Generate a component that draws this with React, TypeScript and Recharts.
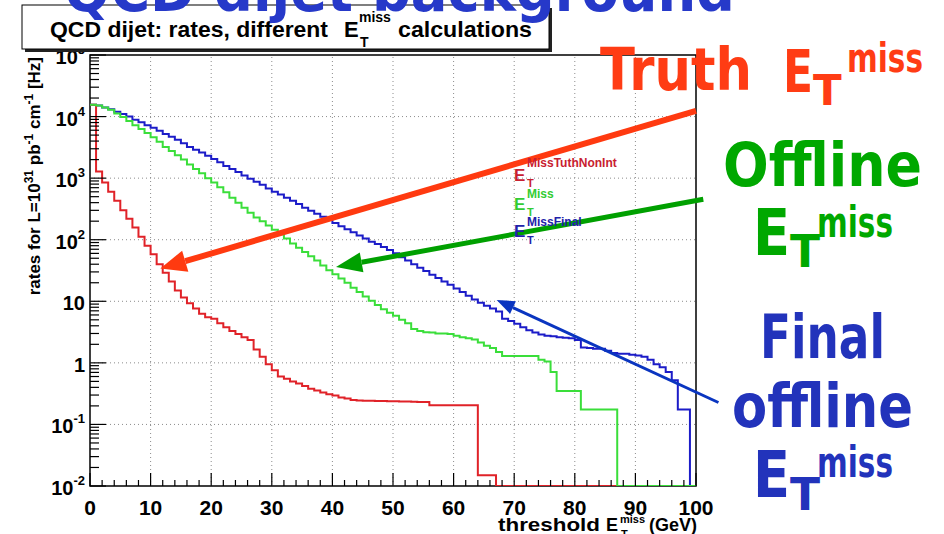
import React from "react"
import { LineChart, Line, XAxis, YAxis, ReferenceLine, ReferenceArea } from "recharts"

// bin low edges, 1 GeV bins (last point closes the final step)
const thresholds = Array.from({ length: 101 }, (_, i) => i)

// rates [Hz], one value per bin
const truthRate = [
  15500, 1280, 850, 600, 430, 300, 220, 158, 112, 80,
  58, 40, 29, 21, 15, 11.5, 9.3, 7.6, 6.3, 5.5,
  5.2, 4.4, 3.8, 3.3, 2.95, 2.6, 2.35, 1.65, 1.26, 0.95,
  0.76, 0.6, 0.55, 0.5, 0.46, 0.42, 0.38, 0.355, 0.33, 0.31,
  0.295, 0.275, 0.263, 0.25, 0.245, 0.243, 0.242, 0.24, 0.24, 0.238,
  0.237, 0.235, 0.235, 0.233, 0.232, 0.232, 0.205, 0.205, 0.205, 0.205,
  0.205, 0.205, 0.205, 0.205, 0.015, 0.015, 0.015, 0.01, 0.01, 0.01,
  0.01, 0.01, 0.01, 0.01, 0.01, 0.01, 0.01, 0.01, 0.01, 0.01,
  0.01, 0.01, 0.01, 0.01, 0.01, 0.01, 0.01, 0.01, 0.01, 0.01,
  0.01, 0.01, 0.01, 0.01, 0.01, 0.01, 0.01, 0.01, 0.01, 0.01,
  0.01,
]

const offlineRate = [
  15500, 15100, 14100, 12900, 11200, 9800, 8500, 7200, 6300, 5400,
  4600, 3900, 3200, 2750, 2350, 2000, 1660, 1410, 1200, 1000,
  850, 710, 590, 480, 400, 330, 275, 230, 200, 170,
  145, 123, 105, 87, 74, 63, 54, 46, 38, 32,
  27.5, 23.4, 20, 16.6, 14.1, 12, 10.2, 8.7, 7.4, 6.5,
  5.8, 5.0, 4.4, 3.55, 3.3, 3.15, 3.1, 3.0, 3.0, 2.95,
  2.75, 2.6, 2.5, 2.4, 2.15, 1.9, 1.74, 1.5, 1.29, 1.29,
  1.29, 1.29, 1.29, 1.29, 1.12, 1.05, 0.71, 0.35, 0.35, 0.35,
  0.35, 0.175, 0.175, 0.175, 0.175, 0.175, 0.175, 0.01, 0.01, 0.01,
  0.01, 0.01, 0.01, 0.01, 0.01, 0.01, 0.01, 0.01, 0.01, 0.01,
  0.01,
]

const finalRate = [
  15500, 15100, 14100, 13200, 12000, 11000, 10000, 8900, 8100, 7200,
  6600, 5900, 5200, 4700, 4200, 3700, 3200, 2900, 2600, 2300,
  2040, 1820, 1580, 1410, 1260, 1100, 980, 870, 780, 680,
  600, 540, 480, 430, 380, 330, 295, 265, 235, 210,
  186, 166, 148, 132, 117, 105, 93, 85, 76, 68,
  60, 52, 46, 40, 35, 31, 27, 24, 21, 18.6,
  16.2, 14.1, 12.3, 10.7, 9.5, 8.5, 7.6, 6.8, 5.2, 4.8,
  4.3, 3.8, 3.4, 3.1, 2.9, 2.75, 2.7, 2.6, 2.55, 2.5,
  2.35, 1.78, 1.74, 1.7, 1.7, 1.58, 1.45, 1.41, 1.41, 1.35,
  1.32, 1.26, 1.12, 0.95, 0.85, 0.71, 0.52, 0.175, 0.175, 0.01,
  0.01,
]

const xMajorTicks = [0, 10, 20, 30, 40, 50, 60, 70, 80, 90, 100]
const xMinorTicks = [2, 4, 6, 8, 12, 14, 16, 18, 22, 24, 26, 28, 32, 34, 36, 38, 42, 44, 46, 48, 52, 54, 56, 58, 62, 64, 66, 68, 72, 74, 76, 78, 82, 84, 86, 88, 92, 94, 96, 98]
const yMajorTicks = [0.01, 0.1, 1, 10, 100, 1000, 10000, 100000]
const yTickLabels: [string, string][] = [
  ["10", "-2"], ["10", "-1"], ["1", ""], ["10", ""], ["10", "2"], ["10", "3"], ["10", "4"], ["10", "5"],
]
const yMinorSteps = [2, 3, 4, 5, 6, 7, 8, 9]
const xGrid = [10, 20, 30, 40, 50, 60, 70, 80, 90]
const yGrid = [0.1, 1, 10, 100, 1000, 10000]

// annotation arrows: [tail, head] in data units
const truthArrow = [{ x: 100, y: 12400 }, { x: 11.6, y: 34 }]
const offlineArrow = [{ x: 101.2, y: 454 }, { x: 40.6, y: 36 }]
const finalArrow = [{ x: 103.7, y: 0.227 }, { x: 67.1, y: 10.5 }]

const data = thresholds.map((x, i) => ({
  x,
  truth: truthRate[i],
  offline: offlineRate[i],
  final: finalRate[i],
}))

const yMinorTicks = yMajorTicks.slice(0, -1).flatMap((d) => yMinorSteps.map((m) => m * d))
const yTicks = [...yMajorTicks, ...yMinorTicks].sort((a, b) => a - b)
const xTicks = [...xMajorTicks, ...xMinorTicks].sort((a, b) => a - b)

const FONT = "'Liberation Sans', Arial, Helvetica, sans-serif"
const HAND = "'DejaVu Sans', 'Noto Sans', sans-serif"

function XTick(props: any) {
  const { x, y, payload } = props
  const v = payload.value
  const major = v % 10 === 0
  return (
    <g>
      <line x1={x} y1={y} x2={x} y2={y - (major ? 13 : 6)} stroke="#000" strokeWidth={1.2} />
      {major && (
        <text x={x} y={y + 29} textAnchor="middle" fontFamily={FONT} fontWeight="bold" fontSize={21} fill="#000">
          {v}
        </text>
      )}
    </g>
  )
}

function YTick(props: any) {
  const { x, y, payload } = props
  const v = payload.value
  const idx = yMajorTicks.findIndex((t) => Math.abs(t - v) / t < 1e-6)
  const major = idx >= 0
  return (
    <g>
      <line x1={x} y1={y} x2={x + (major ? 16 : 9)} y2={y} stroke="#000" strokeWidth={1.2} />
      {major && (
        <text x={x - 5} y={y + 9} textAnchor="end" fontFamily={FONT} fontWeight="bold" fontSize={20} fill="#000">
          {yTickLabels[idx][0]}
          {yTickLabels[idx][1] && (
            <tspan dy={-10} fontSize={13}>
              {yTickLabels[idx][1]}
            </tspan>
          )}
        </text>
      )}
    </g>
  )
}

function arrow(color: string, width: number, head: number, half: number) {
  return (props: any) => {
    const { x1, y1, x2, y2 } = props
    const a = Math.atan2(y2 - y1, x2 - x1)
    const hx = x2 - head * Math.cos(a)
    const hy = y2 - head * Math.sin(a)
    const px = -Math.sin(a) * half
    const py = Math.cos(a) * half
    return (
      <g>
        <line x1={x1} y1={y1} x2={hx} y2={hy} stroke={color} strokeWidth={width} />
        <polygon points={`${x2},${y2} ${hx + px},${hy + py} ${hx - px},${hy - py}`} fill={color} />
      </g>
    )
  }
}

function EtMiss({ x, y, sup, color, e, s, t, supW }: any) {
  // E_T^{sup} as on the slide
  return (
    <g fill={color}>
      <text x={x} y={y} fontSize={e.size} textLength={e.w} lengthAdjust="spacingAndGlyphs">E</text>
      <text x={x + e.w} y={y + t.dy} fontSize={t.size}>T</text>
      <text x={x + e.w + s.dx} y={y + s.dy} fontSize={s.size} textLength={supW} lengthAdjust="spacingAndGlyphs">
        {sup}
      </text>
    </g>
  )
}

function Overlay() {
  const big = { fontFamily: HAND, fontWeight: "bold" as const }
  return (
    <svg width={944} height={534} style={{ position: "absolute", left: 0, top: 0, pointerEvents: "none" }}>
      {/* title box */}
      <rect x={25} y={8} width={527} height={44} fill="#222" />
      <rect x={22} y={5} width={527} height={44} fill="#fff" stroke="#000" strokeWidth={1} />
      <g fontFamily={FONT} fontWeight="bold" fill="#000">
        <text x={50} y={37} fontSize={22} textLength={278} lengthAdjust="spacingAndGlyphs">
          QCD dijet:  rates, different
        </text>
        <text x={344} y={37} fontSize={22}>E</text>
        <text x={359} y={22} fontSize={14}>miss</text>
        <text x={360} y={47} fontSize={14}>T</text>
        <text x={398} y={37} fontSize={22} textLength={134} lengthAdjust="spacingAndGlyphs">
          calculations
        </text>
      </g>

      {/* slide header, cut off at the top */}
      <text x={64} y={11} {...big} fontSize={58} fill="#2639c9" textLength={671} lengthAdjust="spacingAndGlyphs">
        QCD dijet background
      </text>

      {/* axis titles */}
      <text transform="translate(40,57) rotate(-90)" textAnchor="end" fontFamily={FONT} fontWeight="bold" fontSize={17} fill="#000">
        rates for L=10<tspan dy={-7} fontSize={12}>31</tspan>
        <tspan dy={7}> pb</tspan>
        <tspan dy={-7} fontSize={12}>-1</tspan>
        <tspan dy={7}> cm</tspan>
        <tspan dy={-7} fontSize={12}>-1</tspan>
        <tspan dy={7}>  [Hz]</tspan>
      </text>
      <g fontFamily={FONT} fontWeight="bold" fill="#000">
        <text x={498} y={531} fontSize={18} textLength={102} lengthAdjust="spacingAndGlyphs">threshold</text>
        <text x={606} y={531} fontSize={18}>E</text>
        <text x={620} y={523} fontSize={11}>miss</text>
        <text x={621} y={538} fontSize={11}>T</text>
        <text x={697} y={531} fontSize={18} textAnchor="end">(GeV)</text>
      </g>

      {/* legend */}
      <g fontFamily={FONT} fontWeight="bold">
        <g fill="#c82030">
          <text x={514} y={181} fontSize={17}>E</text>
          <text x={527} y={167} fontSize={12}>MissTuthNonInt</text>
          <text x={527} y={187} fontSize={11}>T</text>
        </g>
        <g fill="#33cc33">
          <text x={514} y={210} fontSize={17}>E</text>
          <text x={527} y={198} fontSize={12}>Miss</text>
          <text x={527} y={216} fontSize={11}>T</text>
        </g>
        <g fill="#2222aa">
          <text x={514} y={237} fontSize={17}>E</text>
          <text x={527} y={226} fontSize={12}>MissFinal</text>
          <text x={527} y={244} fontSize={11}>T</text>
        </g>
      </g>

      {/* slide annotations */}
      <g {...big}>
        <text x={600} y={90} fontSize={58} fill="#ff3c14" textLength={152} lengthAdjust="spacingAndGlyphs">Truth</text>
        <EtMiss x={783} y={92} sup="miss" color="#ff3c14" supW={76}
          e={{ size: 58, w: 30 }} t={{ size: 42, dy: 13 }} s={{ size: 40, dx: 34, dy: -20 }} />
        <text x={723} y={186} fontSize={60} fill="#00a800" textLength={199} lengthAdjust="spacingAndGlyphs">Offline</text>
        <EtMiss x={753} y={255} sup="miss" color="#00a800" supW={76}
          e={{ size: 64, w: 37 }} t={{ size: 44, dy: 12 }} s={{ size: 42, dx: 27, dy: -18 }} />
        <text x={760} y={358} fontSize={60} fill="#2233bb" textLength={125} lengthAdjust="spacingAndGlyphs">Final</text>
        <text x={732} y={427} fontSize={60} fill="#2233bb" textLength={181} lengthAdjust="spacingAndGlyphs">offline</text>
        <EtMiss x={753} y={497} sup="miss" color="#2233bb" supW={76}
          e={{ size: 64, w: 37 }} t={{ size: 44, dy: 13 }} s={{ size: 42, dx: 27, dy: -20 }} />
      </g>
    </svg>
  )
}

export default function App() {
  return (
    <div style={{ position: "absolute", left: 0, top: 0, width: 944, height: 534, background: "#fff", overflow: "hidden" }}>
      <LineChart width={944} height={534} data={data} margin={{ top: 55, right: 248, bottom: 18, left: 30 }}>
        <XAxis
          dataKey="x"
          type="number"
          domain={[0, 100]}
          ticks={xTicks}
          interval={0}
          tickSize={0}
          tickMargin={0}
          axisLine={false}
          tick={XTick}
          height={30}
        />
        <YAxis
          type="number"
          scale="log"
          domain={[0.01, 100000]}
          allowDataOverflow
          ticks={yTicks}
          interval={0}
          tickSize={0}
          tickMargin={0}
          axisLine={false}
          tick={YTick}
          width={60}
        />
        {xGrid.map((v) => (
          <ReferenceLine key={`gx${v}`} x={v} stroke="#8c8c8c" strokeDasharray="1 3" strokeWidth={1} />
        ))}
        {yGrid.map((v) => (
          <ReferenceLine key={`gy${v}`} y={v} stroke="#8c8c8c" strokeDasharray="1 3" strokeWidth={1} />
        ))}
        <ReferenceArea x1={0} x2={100} y1={0.01} y2={100000} fill="none" fillOpacity={0} stroke="#000" strokeWidth={1.5} />
        <Line type="stepAfter" dataKey="final" stroke="#1c1cc8" strokeWidth={2} dot={false} isAnimationActive={false} />
        <Line type="stepAfter" dataKey="truth" stroke="#e02228" strokeWidth={2} dot={false} isAnimationActive={false} />
        <Line type="stepAfter" dataKey="offline" stroke="#3ade3a" strokeWidth={2} dot={false} isAnimationActive={false} />
        <ReferenceLine segment={truthArrow} ifOverflow="visible" zIndex={1500} shape={arrow("#ff3a10", 6, 26, 11)} />
        <ReferenceLine segment={offlineArrow} ifOverflow="visible" zIndex={1500} shape={arrow("#00a000", 5, 26, 10)} />
        <ReferenceLine segment={finalArrow} ifOverflow="visible" zIndex={1500} shape={arrow("#0a35c0", 3, 18, 7)} />
      </LineChart>
      <Overlay />
    </div>
  )
}
